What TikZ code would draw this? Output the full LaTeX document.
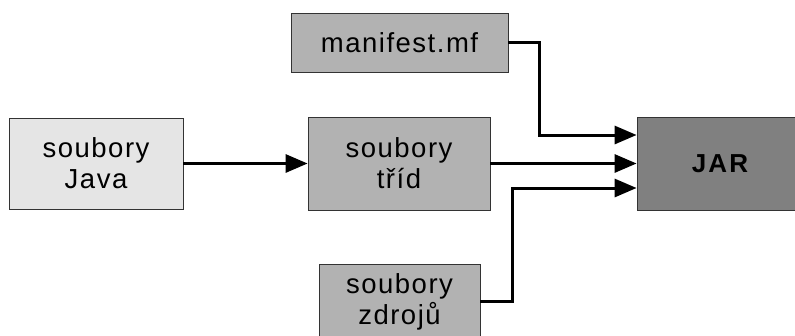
\documentclass[tikz,border=0pt]{standalone}
\usepackage{fontspec}
\setmainfont{Liberation Sans}[LetterSpace=5.5]
\newfontfamily\jarfont{Liberation Sans}[LetterSpace=8]
\usetikzlibrary{arrows.meta,calc}

\definecolor{boxlight}{gray}{0.90}
\definecolor{boxmid}{gray}{0.70}
\definecolor{boxdark}{gray}{0.50}
\definecolor{boxline}{gray}{0.20}

\tikzset{
  filebox/.style={draw=boxline, line width=0.8pt, fill=boxmid, inner sep=0pt,
    align=center, font=\fontsize{27.5}{31}\selectfont},
  flow/.style={line width=3pt, -{Triangle[length=22pt,width=18pt]}},
}

\begin{document}
\begin{tikzpicture}[x=1pt, y=-1pt]
  \useasboundingbox (0,0) rectangle (795,335);
  \clip (0,0) rectangle (795,335);

  % sources and the archive
  \node[filebox, minimum width=217pt, minimum height=59pt] (manifest) at (399.5,42.5) {manifest.mf};
  \node[filebox, fill=boxlight, minimum width=174pt, minimum height=91pt] (java) at (96,163.5) {soubory\\Java};
  \node[filebox, minimum width=182pt, minimum height=93pt] (trid) at (399,163.5) {soubory\\tříd};
  \node[filebox, minimum width=161pt, minimum height=75pt] (zdroje) at (399.5,301.5) {soubory\\zdrojů};
  \node[filebox, fill=boxdark, minimum width=166pt, minimum height=93pt,
        font=\jarfont\bfseries\fontsize{26}{28}\selectfont] (jar) at (720,163.5) {JAR};

  % entry points on the archive
  \coordinate (inA) at ($(jar.west)+(0,-28.5)$);
  \coordinate (inB) at (jar.west);
  \coordinate (inC) at ($(jar.west)+(0,24.5)$);

  % connectors
  \draw[flow] (java.east) -- (trid.west);
  \draw[flow] (manifest.east) -- ++(31,0) |- (inA);
  \draw[flow] (trid.east) -- (inB);
  \draw[flow] (zdroje.east) -- ++(32,0) |- (inC);
\end{tikzpicture}
\end{document}
